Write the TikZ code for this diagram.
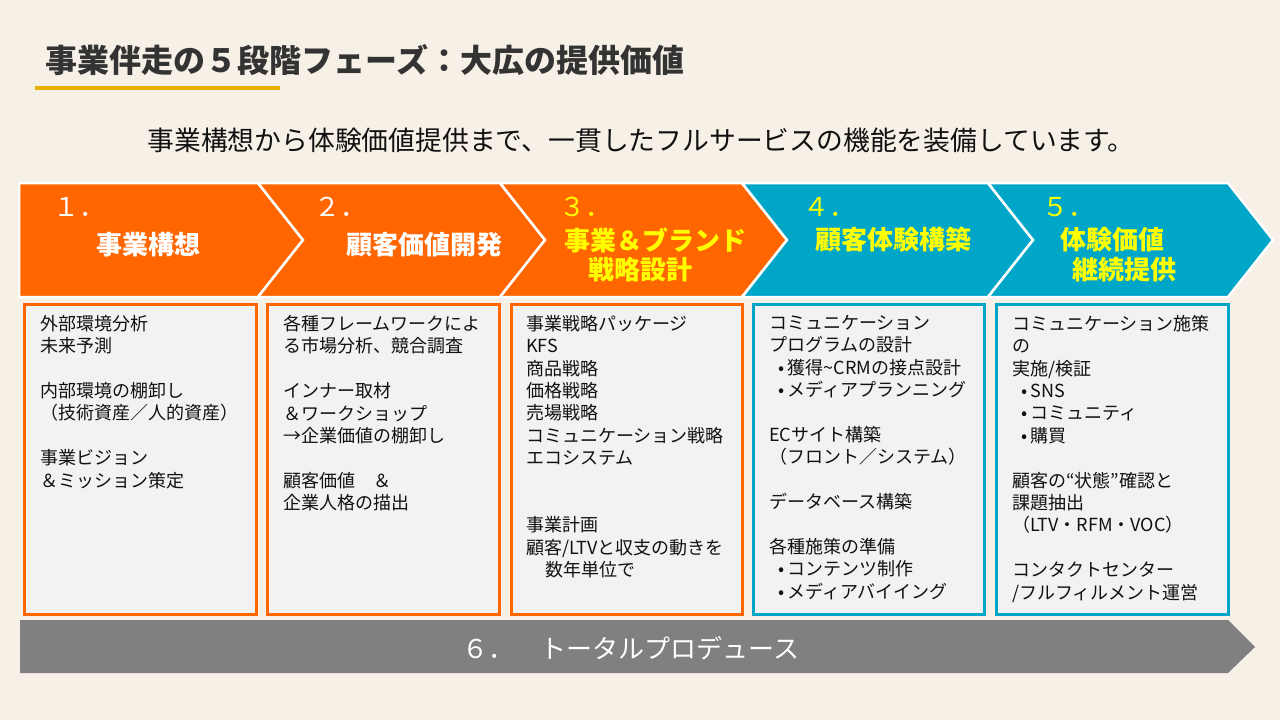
\documentclass[tikz,border=0pt]{standalone}
\usepackage{fontspec}
\setmainfont{Noto Sans CJK JP}
\definecolor{bgc}{HTML}{F6F0E6}
\definecolor{orangec}{HTML}{FF6600}
\definecolor{tealc}{HTML}{00A6C8}
\definecolor{grayc}{HTML}{808080}
\definecolor{yellowc}{HTML}{FFFF00}
\definecolor{boxfill}{HTML}{F2F2F2}
\definecolor{goldc}{HTML}{E5B200}
\definecolor{titlec}{HTML}{333333}
\definecolor{textc}{HTML}{111111}
\newcommand\itembul{\hspace*{5.5pt}\makebox[13pt]{•}}
\tikzset{
  chev/.style={draw=white, line width=2.5pt, line join=miter},
  chevnum/.style={anchor=west, inner sep=0pt, font=\fontsize{26}{30}\selectfont},
  chevlab/.style={inner sep=0pt, font=\bfseries\fontsize{26}{30}\selectfont},
  cbox/.style={draw, line width=3pt, fill=boxfill, minimum width=232pt, minimum height=310pt, inner sep=0pt},
  ctext/.style={anchor=north west, inner sep=0pt, align=left, font=\fontsize{18}{22.4}\selectfont, text=textc},
}
\begin{document}
\begin{tikzpicture}[x=1pt,y=-1pt]
\useasboundingbox (0,0) rectangle (1280,720);
\fill[bgc] (0,0) rectangle (1280,720);

% title
\node[inner sep=0pt, font=\bfseries\fontsize{32}{36}\selectfont, text=titlec] (title) at (365,60) {事業伴走の５段階フェーズ：大広の提供価値};
\draw[line width=4pt, goldc] (35,88) -- (280,88);
\node[inner sep=0pt, font=\fontsize{26.8}{30}\selectfont, text=textc] (subtitle) at (641,140) {事業構想から体験価値提供まで、一貫したフルサービスの機能を装備しています。};

% chevrons
\filldraw[chev, fill=orangec] (19,183) -- (258,183) -- (303,240) -- (258,297) -- (19,297) -- cycle;
\filldraw[chev, fill=orangec] (258,183) -- (500,183) -- (545,240) -- (500,297) -- (258,297) -- (303,240) -- cycle;
\filldraw[chev, fill=orangec] (500,183) -- (742,183) -- (787,240) -- (742,297) -- (500,297) -- (545,240) -- cycle;
\filldraw[chev, fill=tealc] (742,183) -- (988,183) -- (1033,240) -- (988,297) -- (742,297) -- (787,240) -- cycle;
\filldraw[chev, fill=tealc] (988,183) -- (1228,183) -- (1273,240) -- (1228,297) -- (988,297) -- (1033,240) -- cycle;

\node[chevnum, text=white] (n1) at (53,207) {１．};
\node[chevlab, text=white] (l1) at (148,245) {事業構想};
\node[chevnum, text=white] (n2) at (314,207) {２．};
\node[chevlab, text=white] (l2) at (424,245) {顧客価値開発};
\node[chevnum, text=yellowc] (n3) at (559,207) {３．};
\node[chevlab, text=yellowc] (l3a) at (655,240) {事業＆ブランド};
\node[chevlab, text=yellowc] (l3b) at (640,270) {戦略設計};
\node[chevnum, text=yellowc] (n4) at (803,207) {４．};
\node[chevlab, text=yellowc] (l4) at (893,240) {顧客体験構築};
\node[chevnum, text=yellowc] (n5) at (1042,207) {５．};
\node[chevlab, text=yellowc] (l5a) at (1112,240) {体験価値};
\node[chevlab, text=yellowc] (l5b) at (1124,270) {継続提供};

% content boxes
\node[cbox, draw=orangec] (box1) at (140,459) {};
\node[cbox, draw=orangec] (box2) at (383,459) {};
\node[cbox, draw=orangec, minimum width=231pt] (box3) at (626.5,459) {};
\node[cbox, draw=tealc, minimum width=231pt] (box4) at (868.5,459) {};
\node[cbox, draw=tealc] (box5) at (1112,459) {};

\node[ctext] (t1) at (40,315) {外部環境分析\\
未来予測\\[22.4pt]
内部環境の棚卸し\\
（技術資産／人的資産）\\[22.4pt]
事業ビジョン\\
＆ミッション策定};

\node[ctext] (t2) at (283,315) {各種フレームワークによ\\
る市場分析、競合調査\\[22.4pt]
インナー取材\\
＆ワークショップ\\
→企業価値の棚卸し\\[22.4pt]
顧客価値　＆\\
企業人格の描出};

\node[ctext] (t3) at (526,315) {事業戦略パッケージ\\
KFS\\
商品戦略\\
価格戦略\\
売場戦略\\
コミュニケーション戦略\\
エコシステム\\[44.8pt]
事業計画\\
顧客/LTVと収支の動きを\\
\hspace*{19pt}数年単位で};

\node[ctext] (t4) at (769,315) {コミュニケーション\\
プログラムの設計\\
\itembul 獲得\textasciitilde CRMの接点設計\\
\itembul メディアプランニング\\[22.4pt]
ECサイト構築\\
（フロント／システム）\\[22.4pt]
データベース構築\\[22.4pt]
各種施策の準備\\
\itembul コンテンツ制作\\
\itembul メディアバイイング};

\node[ctext] (t5) at (1012,315) {コミュニケーション施策\\
の\\
実施/検証\\
\itembul SNS\\
\itembul コミュニティ\\
\itembul 購買\\[22.4pt]
顧客の“状態”確認と\\
課題抽出\\
（LTV・RFM・VOC）\\[22.4pt]
コンタクトセンター\\
/フルフィルメント運営};

% bottom bar
\fill[grayc] (20,620) -- (1228,620) -- (1255,647) -- (1228,673) -- (20,673) -- cycle;
\node[inner sep=0pt, font=\fontsize{26}{30}\selectfont, text=white] (total) at (631,648) {６．　トータルプロデュース};
\end{tikzpicture}
\end{document}
